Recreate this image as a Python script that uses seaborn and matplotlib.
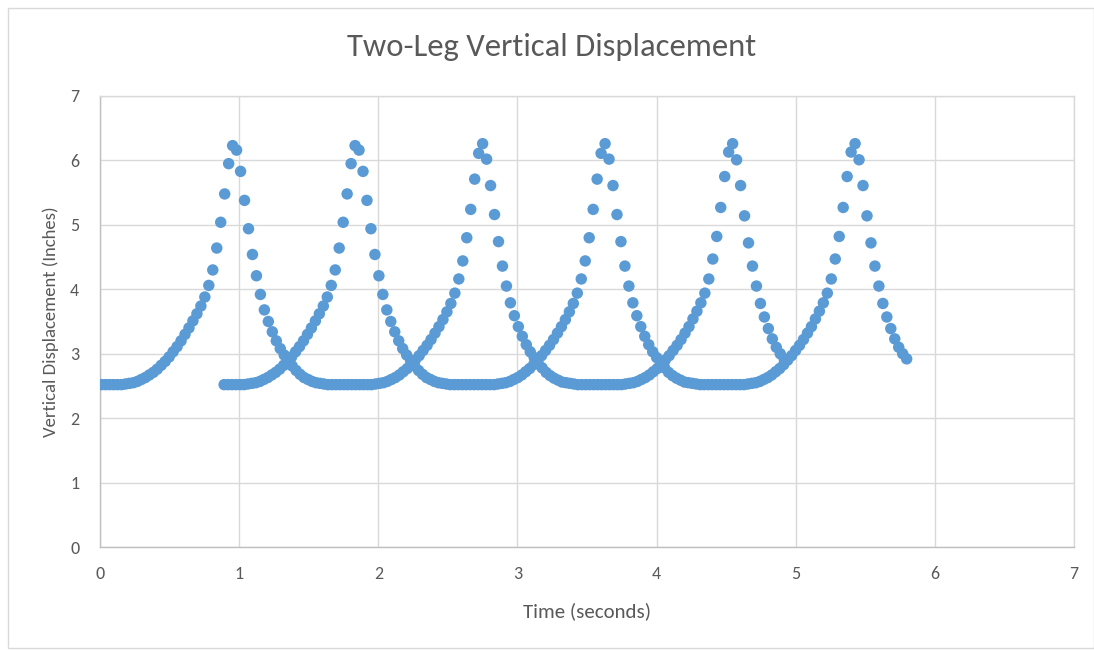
import numpy as np
import pandas as pd
import matplotlib
matplotlib.use("Agg")
import matplotlib.pyplot as plt
import seaborn as sns
from matplotlib.patches import Rectangle

# ---- data ----
# Sampling of the displacement trace (seconds)
t_start = 0.012
sample_interval = 0.02852
leg_shift = 0.88  # second leg trace starts this many seconds later

# Vertical displacement (inches) of one leg, one value per sample
flat_start = [2.52, 2.52, 2.52, 2.52, 2.52, 2.52]
rise_1 = [2.53, 2.54, 2.55, 2.57, 2.60, 2.63, 2.67, 2.71, 2.76, 2.82, 2.88, 2.95, 3.03,
          3.11, 3.20, 3.30, 3.40, 3.51, 3.62, 3.74, 3.88, 4.06, 4.30, 4.64, 5.04, 5.48, 5.95]
peak_1 = [6.23]
fall_1 = [6.16, 5.83, 5.38, 4.94, 4.54, 4.21, 3.92, 3.68, 3.50, 3.34, 3.20, 3.08, 2.98,
          2.89, 2.81, 2.74, 2.68, 2.63, 2.60, 2.57, 2.55, 2.54, 2.53, 2.52]
flat_1 = [2.52, 2.52, 2.52, 2.52, 2.52, 2.52, 2.52, 2.52, 2.52, 2.52, 2.52]
rise_2 = [2.53, 2.54, 2.55, 2.57, 2.60, 2.63, 2.67, 2.72, 2.77, 2.83, 2.90, 2.97, 3.05,
          3.13, 3.22, 3.32, 3.42, 3.53, 3.65, 3.78, 3.94, 4.16, 4.44, 4.80, 5.24, 5.71, 6.11]
peak_2 = [6.26]
fall_2 = [6.02, 5.61, 5.16, 4.74, 4.36, 4.05, 3.79, 3.59, 3.42, 3.27, 3.14, 3.03, 2.94,
          2.85, 2.78, 2.71, 2.66, 2.62, 2.59, 2.56, 2.55, 2.54, 2.53, 2.52]
flat_2 = [2.52, 2.52, 2.52, 2.52, 2.52, 2.52, 2.52, 2.52, 2.52, 2.52, 2.52]
rise_3 = [2.53, 2.54, 2.55, 2.57, 2.60, 2.63, 2.67, 2.72, 2.77, 2.83, 2.90, 2.97, 3.05,
          3.13, 3.22, 3.32, 3.42, 3.54, 3.66, 3.79, 3.94, 4.16, 4.47, 4.82, 5.27, 5.75, 6.13]
peak_3 = [6.26]
fall_3 = [6.01, 5.61, 5.14, 4.72, 4.36, 4.05, 3.78, 3.57, 3.39, 3.23, 3.10, 3.00, 2.92]

x_ticks = [0, 1, 2, 3, 4, 5, 6, 7]
y_ticks = [0, 1, 2, 3, 4, 5, 6, 7]

title = "Two-Leg Vertical Displacement"
x_label = "Time (seconds)"
y_label = "Vertical Displacement (Inches)"

# ---- assemble ----
displacement = (flat_start + rise_1 + peak_1 + fall_1 + flat_1 + rise_2 + peak_2 +
                fall_2 + flat_2 + rise_3 + peak_3 + fall_3)
n = len(displacement)
time_a = t_start + sample_interval * np.arange(n)
time_b = time_a + leg_shift

df = pd.DataFrame({
    "time": np.concatenate([time_a, time_b]),
    "disp": displacement + displacement,
    "leg": ["Leg 1"] * n + ["Leg 2"] * n,
})

# ---- style ----
sns.set_theme(style="white")
plt.rcParams["font.family"] = ["Carlito", "Liberation Sans Narrow", "Open Sans", "DejaVu Sans"]

blue = "#5B9BD5"
grid_c = "#D9D9D9"
text_c = "#595959"

fig = plt.figure(figsize=(10.94, 6.5), dpi=100)
ax = fig.add_axes([100 / 1094, 1 - 547 / 650, 974 / 1094, 451 / 650])

sns.scatterplot(data=df, x="time", y="disp", hue="leg",
                palette={"Leg 1": blue, "Leg 2": blue},
                s=68, edgecolor="none", linewidth=0, legend=False, ax=ax, zorder=3)

ax.set_xlim(0, 7)
ax.set_ylim(0, 7)
ax.set_xticks(x_ticks)
ax.set_yticks(y_ticks)
ax.set_xticklabels([str(v) for v in x_ticks])
ax.set_yticklabels([str(v) for v in y_ticks])
ax.grid(True, color=grid_c, linewidth=1.0)
ax.set_axisbelow(True)
for side in ["top", "right"]:
    ax.spines[side].set_color(grid_c)
    ax.spines[side].set_linewidth(1.0)
for side in ["left", "bottom"]:
    ax.spines[side].set_color("#BFBFBF")
    ax.spines[side].set_linewidth(1.0)
ax.tick_params(axis="both", length=0, labelsize=13, colors=text_c)
ax.tick_params(axis="x", pad=14)
ax.tick_params(axis="y", pad=15)

ax.set_xlabel(x_label, fontsize=15, color=text_c, labelpad=14)
ax.set_ylabel(y_label, fontsize=13.5, color=text_c, labelpad=8)
fig.text(552 / 1094, 1 - 47 / 650, title, fontsize=23.5, color=text_c,
         ha="center", va="center")

# chart-area border
fig.patches.append(Rectangle((8 / 1094, 0.003), 1 - 8 / 1094, 1 - 8 / 650 - 0.003,
                             transform=fig.transFigure, fill=False,
                             edgecolor=grid_c, linewidth=1.0))

fig.savefig("out.png", dpi=100, facecolor="white")
